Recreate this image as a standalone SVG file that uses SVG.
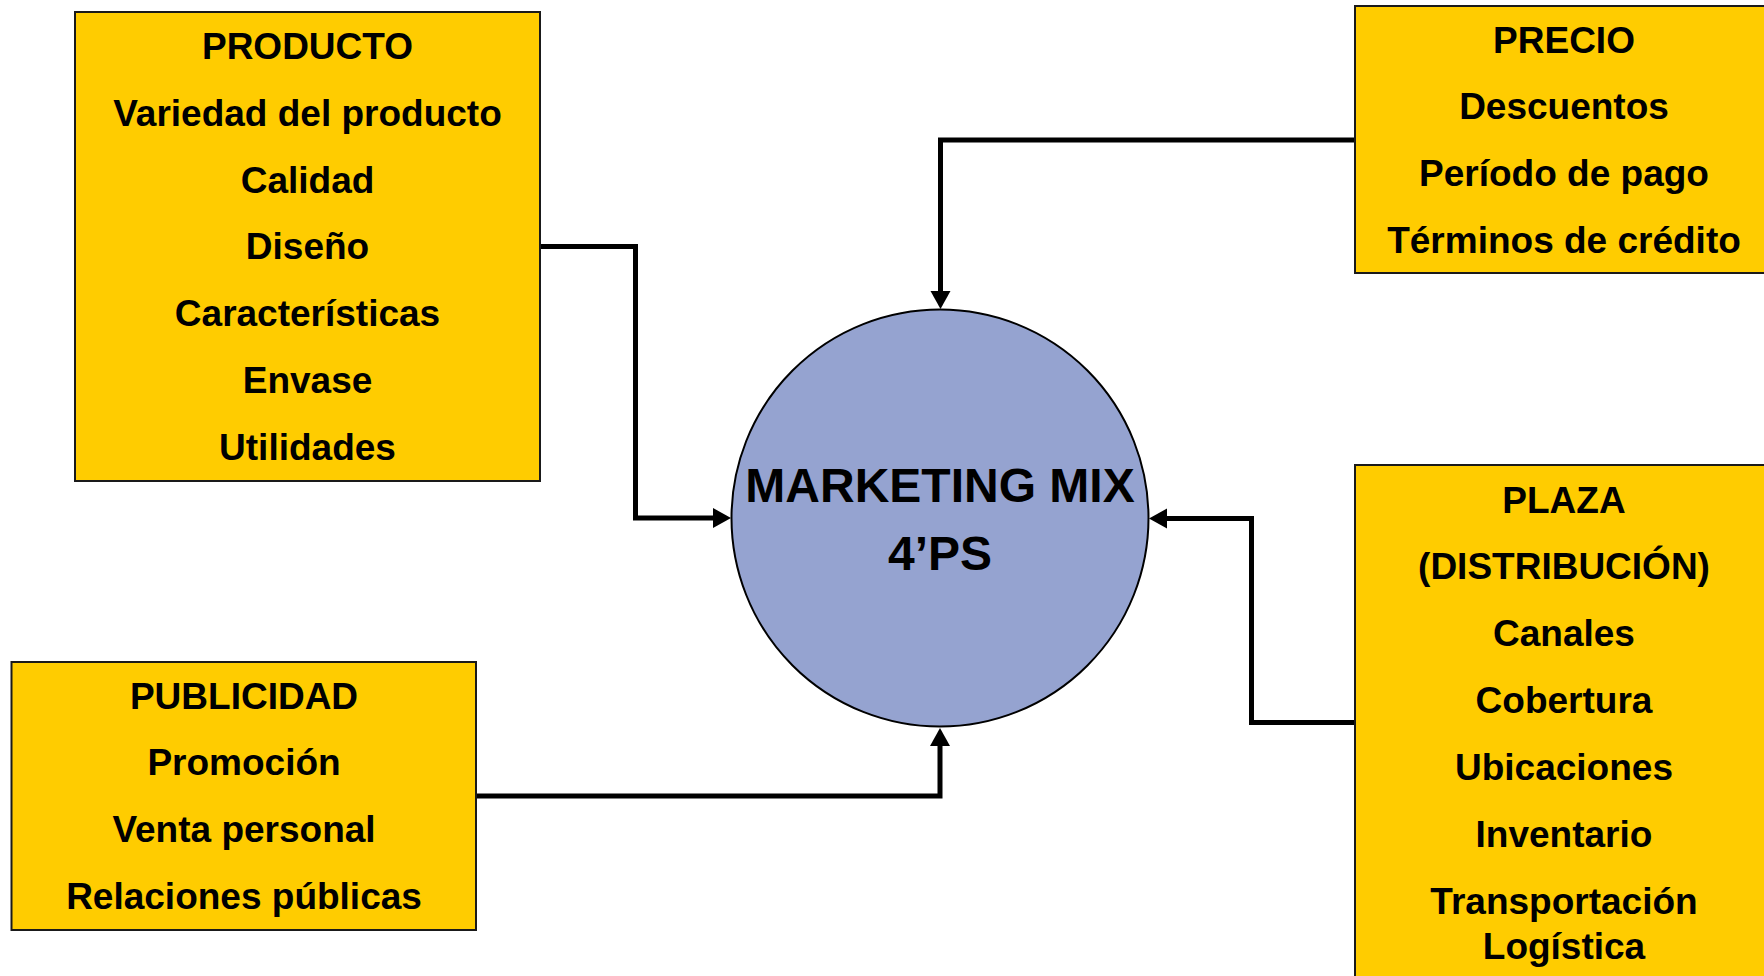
<svg xmlns="http://www.w3.org/2000/svg" width="1764" height="976" viewBox="0 0 1764 976">
<style>
.box{fill:#FFCC00;stroke:#1a1a1a;stroke-width:2}
.t{font-family:"Liberation Sans",Arial,sans-serif;font-weight:bold;font-size:37px;fill:#000;text-anchor:middle}
.c{font-family:"Liberation Sans",Arial,sans-serif;font-weight:bold;font-size:48px;fill:#000;text-anchor:middle}
.ln{fill:none;stroke:#000;stroke-width:5;stroke-linejoin:miter}
</style>
<defs>
<marker id="arr" markerUnits="userSpaceOnUse" markerWidth="18" markerHeight="20" viewBox="0 0 18 20" refX="1" refY="10" orient="auto" overflow="visible">
<path d="M0,0 L18,10 L0,20 z" fill="#000"/>
</marker>
</defs>
<rect width="1764" height="976" fill="#fff"/>
<g id="connectors">
<path class="ln" d="M540,246.5 H635.5 V518 H714" marker-end="url(#arr)"/>
<path class="ln" d="M1355,140 H940.5 V292" marker-end="url(#arr)"/>
<path class="ln" d="M1355,722.5 H1251.5 V518.5 H1166" marker-end="url(#arr)"/>
<path class="ln" d="M476,796 H940 V745" marker-end="url(#arr)"/>
</g>
<g id="center">
<circle cx="940" cy="518" r="208.5" fill="#95A3D0" stroke="#000" stroke-width="2"/>
<text class="c" x="940" y="502">MARKETING MIX</text>
<text class="c" x="940" y="570">4’PS</text>
</g>
<g id="producto">
<rect class="box" x="75" y="12" width="465" height="469"/>
<text class="t" x="307.5" y="59">PRODUCTO</text>
<text class="t" x="307.5" y="126">Variedad del producto</text>
<text class="t" x="307.5" y="193">Calidad</text>
<text class="t" x="307.5" y="259">Diseño</text>
<text class="t" x="307.5" y="326">Características</text>
<text class="t" x="307.5" y="393">Envase</text>
<text class="t" x="307.5" y="460">Utilidades</text>
</g>
<g id="precio">
<rect class="box" x="1355" y="6" width="420" height="267"/>
<text class="t" x="1564" y="53">PRECIO</text>
<text class="t" x="1564" y="119">Descuentos</text>
<text class="t" x="1564" y="186">Período de pago</text>
<text class="t" x="1564" y="253">Términos de crédito</text>
</g>
<g id="publicidad">
<rect class="box" x="11.5" y="662" width="464.5" height="268"/>
<text class="t" x="244" y="709">PUBLICIDAD</text>
<text class="t" x="244" y="775">Promoción</text>
<text class="t" x="244" y="842">Venta personal</text>
<text class="t" x="244" y="909">Relaciones públicas</text>
</g>
<g id="plaza">
<rect class="box" x="1355" y="465" width="420" height="530"/>
<text class="t" x="1564" y="513">PLAZA</text>
<text class="t" x="1564" y="579">(DISTRIBUCIÓN)</text>
<text class="t" x="1564" y="646">Canales</text>
<text class="t" x="1564" y="713">Cobertura</text>
<text class="t" x="1564" y="780">Ubicaciones</text>
<text class="t" x="1564" y="847">Inventario</text>
<text class="t" x="1564" y="914">Transportación</text>
<text class="t" x="1564" y="959">Logística</text>
</g>
</svg>
